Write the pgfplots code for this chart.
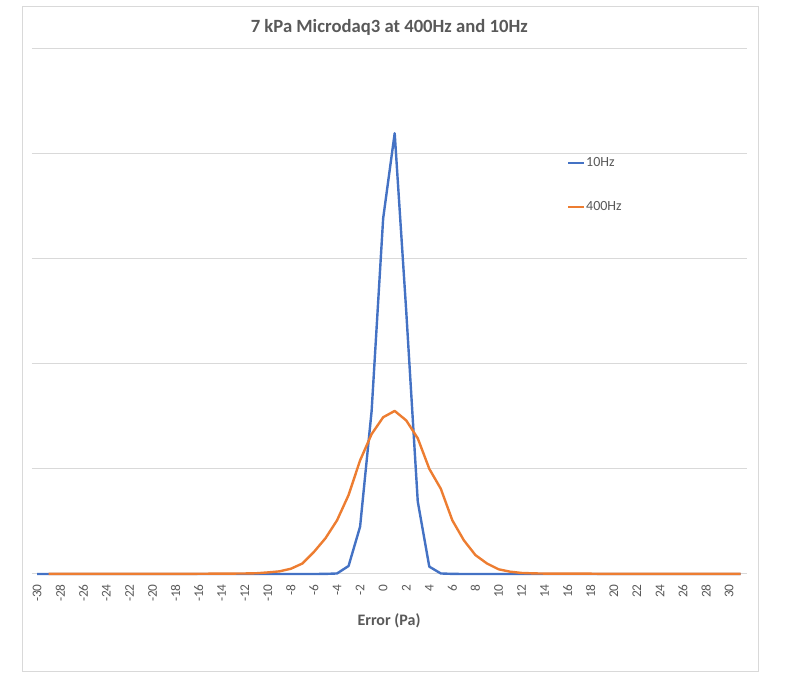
\documentclass[border=0pt]{standalone}
\usepackage{fontspec}
\setmainfont{Carlito}
\usepackage{pgfplots}
\usepackage{pgfplotstable}
\pgfplotsset{compat=1.18}
\definecolor{cblue}{HTML}{4472C4}
\definecolor{corange}{HTML}{ED7D31}
\definecolor{ctext}{HTML}{595959}
\definecolor{cgrid}{HTML}{D9D9D9}
\pgfplotstableread{
x y
-30 0
-29 0
-28 0
-27 0
-26 0
-25 0
-24 0
-23 0
-22 0
-21 0
-20 0
-19 0
-18 0
-17 0
-16 0
-15 0
-14 0
-13 0
-12 0
-11 0
-10 0
-9 0
-8 0
-7 0
-6 0
-5 0.001
-4 0.005
-3 0.076
-2 0.45
-1 1.55
0 3.38
1 4.19
2 2.50
3 0.69
4 0.07
5 0.005
6 0.001
7 0
8 0
9 0
10 0
11 0
12 0
13 0
14 0
15 0
16 0
17 0
18 0
19 0
20 0
21 0
22 0
23 0
24 0
25 0
26 0
27 0
28 0
29 0
30 0
31 0
}\tenhz
\pgfplotstableread{
x y
-29 0.001
-28 0.001
-27 0.001
-26 0.001
-25 0.001
-24 0.001
-23 0.001
-22 0.001
-21 0.001
-20 0.001
-19 0.001
-18 0.001
-17 0.001
-16 0.002
-15 0.003
-14 0.003
-13 0.004
-12 0.005
-11 0.007
-10 0.015
-9 0.025
-8 0.05
-7 0.10
-6 0.21
-5 0.34
-4 0.51
-3 0.75
-2 1.08
-1 1.33
0 1.49
1 1.55
2 1.46
3 1.29
4 1.00
5 0.81
6 0.51
7 0.32
8 0.18
9 0.10
10 0.045
11 0.022
12 0.010
13 0.006
14 0.004
15 0.003
16 0.003
17 0.003
18 0.003
19 0.001
20 0.001
21 0.001
22 0.001
23 0.001
24 0.001
25 0.001
26 0.001
27 0.001
28 0.001
29 0.001
30 0.001
31 0.001
}\fourhundredhz
\begin{document}
\begin{tikzpicture}
\path[use as bounding box] (0,0) rectangle (589.5pt,516.75pt);
\draw[cgrid, line width=0.75pt] (16.5pt,12.75pt) rectangle (568.5pt,511.5pt);
\begin{axis}[
  at={(24pt,86.25pt)}, anchor=south west,
  scale only axis, width=536.25pt, height=394.5pt,
  xmin=-30.45, xmax=31.55, ymin=0, ymax=5,
  clip=false,
  xtick={-30,-28,...,30},
  ytick={0,1,2,3,4,5}, yticklabels={},
  axis line style={draw=none},
  ymajorgrids, grid style={cgrid, line width=0.75pt},
  major tick length=0pt,
  xtick style={draw=none}, ytick style={draw=none},
  /pgf/number format/assume math mode=true,
  tick label style={font=\fontsize{10}{12}\selectfont, text=ctext},
  xticklabel style={rotate=90, anchor=east, inner xsep=7.5pt, inner ysep=0pt},
  xlabel={Error (Pa)},
  xlabel style={at={(axis description cs:0.4993,-0.0894)}, anchor=center, font=\bfseries\fontsize{12}{14}\selectfont, text=ctext},
  every axis title shift=0pt,
  title={7 kPa Microdaq3 at 400Hz and 10Hz},
  title style={at={(axis description cs:0.4996,1.04)}, anchor=center, font=\bfseries\fontsize{14}{17}\selectfont, text=ctext},
  legend style={at={(axis description cs:0.748,0.794)}, anchor=north west, draw=none, fill=none, inner sep=0pt, row sep=24pt, font=\fontsize{10.5}{12.5}\selectfont, text=ctext, nodes={inner sep=0.5pt}},
  legend cell align=left,
  legend image code/.code={\draw[#1] (0pt,0pt) -- (12pt,0pt);},
]
\addplot[cblue, line width=1.8pt, line join=round] table[x=x,y=y] {\tenhz};
\addlegendentry{10Hz}
\addplot[corange, line width=1.8pt, line join=round] table[x=x,y=y] {\fourhundredhz};
\addlegendentry{400Hz}
\end{axis}
\end{tikzpicture}
\end{document}
